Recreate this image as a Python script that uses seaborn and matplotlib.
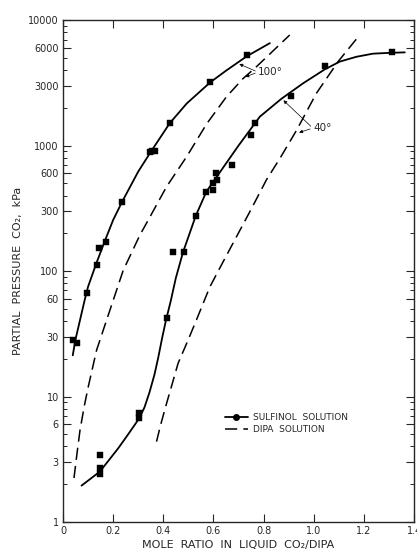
import numpy as np
import pandas as pd
import matplotlib
matplotlib.use('Agg')
import matplotlib.pyplot as plt
import matplotlib.ticker as mticker
import seaborn as sns

# sulfinol 100 deg - measured points
s100_x = [0.041, 0.055, 0.096, 0.135, 0.143, 0.171, 0.236, 0.347, 0.355, 0.365, 0.426, 0.588, 0.733]
s100_y = [28.2, 26.5, 67, 112, 152, 170, 357, 890, 900, 905, 1510, 3200, 5270]
# sulfinol 100 deg - smooth curve
c100_x = [0.039, 0.05, 0.068, 0.085, 0.10, 0.135, 0.17, 0.20, 0.236, 0.30, 0.35, 0.426, 0.494, 0.588, 0.65, 0.733, 0.825]
c100_y = [21.3, 28.5, 40.7, 57, 75, 118, 180, 255, 357, 620, 890, 1510, 2170, 3200, 3950, 5150, 6550]
# DIPA 100 deg - dashed curve
d100_x = [0.044, 0.055, 0.068, 0.085, 0.101, 0.134, 0.174, 0.24, 0.307, 0.34, 0.413, 0.493, 0.573, 0.652, 0.718, 0.772, 0.904]
d100_y = [2.24, 3.4, 5.4, 8.4, 12, 23.4, 40.7, 101, 194, 255, 470, 815, 1490, 2450, 3420, 4260, 7600]

# sulfinol 40 deg - measured points
s40_x = [0.147, 0.147, 0.147, 0.304, 0.304, 0.413, 0.437, 0.483, 0.53, 0.572, 0.599, 0.599, 0.615,
         0.61, 0.675, 0.748, 0.765, 0.908, 1.044, 1.312]
s40_y = [3.42, 2.71, 2.41, 7.35, 6.7, 41.9, 141, 142, 277, 430, 442, 500, 530,
         610, 705, 1210, 1520, 2470, 4270, 5540]
# sulfinol 40 deg - smooth curve
c40_x = [0.074, 0.147, 0.22, 0.26, 0.304, 0.325, 0.345, 0.365, 0.38, 0.395, 0.41, 0.43, 0.45, 0.479,
         0.53, 0.572, 0.612, 0.70, 0.785, 0.871, 0.957, 1.044, 1.104, 1.17, 1.236, 1.30, 1.363]
c40_y = [1.95, 2.52, 3.86, 5.0, 6.7, 8.2, 10.8, 15, 20.5, 29, 40, 58, 88, 142,
         277, 430, 560, 1000, 1700, 2360, 3130, 4050, 4670, 5100, 5400, 5480, 5530]
# DIPA 40 deg - dashed curve
d40_x = [0.373, 0.39, 0.413, 0.435, 0.459, 0.499, 0.532, 0.586, 0.64, 0.692, 0.75, 0.811, 0.865, 0.931, 1.01, 1.097, 1.183]
d40_y = [4.37, 6.0, 8.8, 12.5, 18.4, 28.2, 40.7, 75, 120, 188, 310, 532, 790, 1320, 2600, 4670, 7600]

y_ticks = [1, 3, 6, 10, 30, 60, 100, 300, 600, 1000, 3000, 6000, 10000]
x_ticks = [0, 0.2, 0.4, 0.6, 0.8, 1.0, 1.2, 1.4]
x_labels = ['0', '0.2', '0.4', '0.6', '0.8', '1.0', '1.2', '1.4']

sns.set_style('ticks')
plt.rcParams['font.family'] = ['DejaVu Sans']

fig = plt.figure(figsize=(4.17, 5.58), dpi=100)
ax = fig.add_axes([0.151, 0.0645, 0.842, 0.8995])

for cx, cy in [(c100_x, c100_y), (c40_x, c40_y)]:
    sns.lineplot(x=cx, y=cy, ax=ax, color='black', lw=1.3, sort=False, estimator=None)
for dx, dy in [(d100_x, d100_y), (d40_x, d40_y)]:
    sns.lineplot(x=dx, y=dy, ax=ax, color='black', lw=1.1, sort=False, estimator=None,
                 linestyle=(0, (8, 4)))
sns.scatterplot(x=s100_x + s40_x, y=s100_y + s40_y, ax=ax, marker='s', s=20,
                color='black', edgecolor='black', linewidth=0.3, zorder=3)

ax.set_yscale('log')
ax.set_xlim(0, 1.4)
ax.set_ylim(1, 10000)
ax.yaxis.set_major_locator(mticker.FixedLocator(y_ticks))
ax.yaxis.set_major_formatter(mticker.FixedFormatter([str(v) for v in y_ticks]))
ax.yaxis.set_minor_locator(mticker.LogLocator(base=10, subs=np.arange(2, 10)))
ax.yaxis.set_minor_formatter(mticker.NullFormatter())
ax.set_xticks(x_ticks)
ax.set_xticklabels(x_labels)
ax.tick_params(which='both', direction='in', top=True, right=True, labelsize=7, pad=3)
ax.tick_params(which='major', length=6, width=0.8)
ax.tick_params(which='minor', length=3, width=0.7)
for sp in ax.spines.values():
    sp.set_linewidth(1.0)

ax.set_xlabel('MOLE  RATIO  IN  LIQUID  CO\u2082/DIPA', fontsize=8, labelpad=3)
ax.set_ylabel('PARTIAL  PRESSURE  CO\u2082,  kPa', fontsize=8, labelpad=4)

# temperature annotations
ax.text(0.777, 3850, '100°', fontsize=7.5, va='center', ha='left')
ax.annotate('', xy=(0.693, 4560), xytext=(0.777, 3850),
            arrowprops=dict(arrowstyle='-|>', color='black', lw=0.5, mutation_scale=5))
ax.annotate('', xy=(0.717, 3460), xytext=(0.777, 3850),
            arrowprops=dict(arrowstyle='-|>', color='black', lw=0.5, mutation_scale=5))
ax.text(1.0, 1378, '40°', fontsize=7.5, va='center', ha='left')
ax.annotate('', xy=(0.871, 2378), xytext=(0.996, 1378),
            arrowprops=dict(arrowstyle='-|>', color='black', lw=0.5, mutation_scale=5))
ax.annotate('', xy=(0.931, 1250), xytext=(0.996, 1378),
            arrowprops=dict(arrowstyle='-|>', color='black', lw=0.5, mutation_scale=5))

# legend
h1 = plt.Line2D([], [], color='black', lw=1.3, marker='o', markersize=4)
h2 = plt.Line2D([], [], color='black', lw=1.1, linestyle=(0, (8, 4)))
ax.legend([h1, h2], ['SULFINOL  SOLUTION', 'DIPA  SOLUTION'], loc='upper left',
          bbox_to_anchor=(0.45, 0.225), frameon=False, fontsize=6.5, handlelength=2.6,
          handletextpad=0.5, labelspacing=0.4, borderaxespad=0)

fig.savefig('out.png', dpi=100)
